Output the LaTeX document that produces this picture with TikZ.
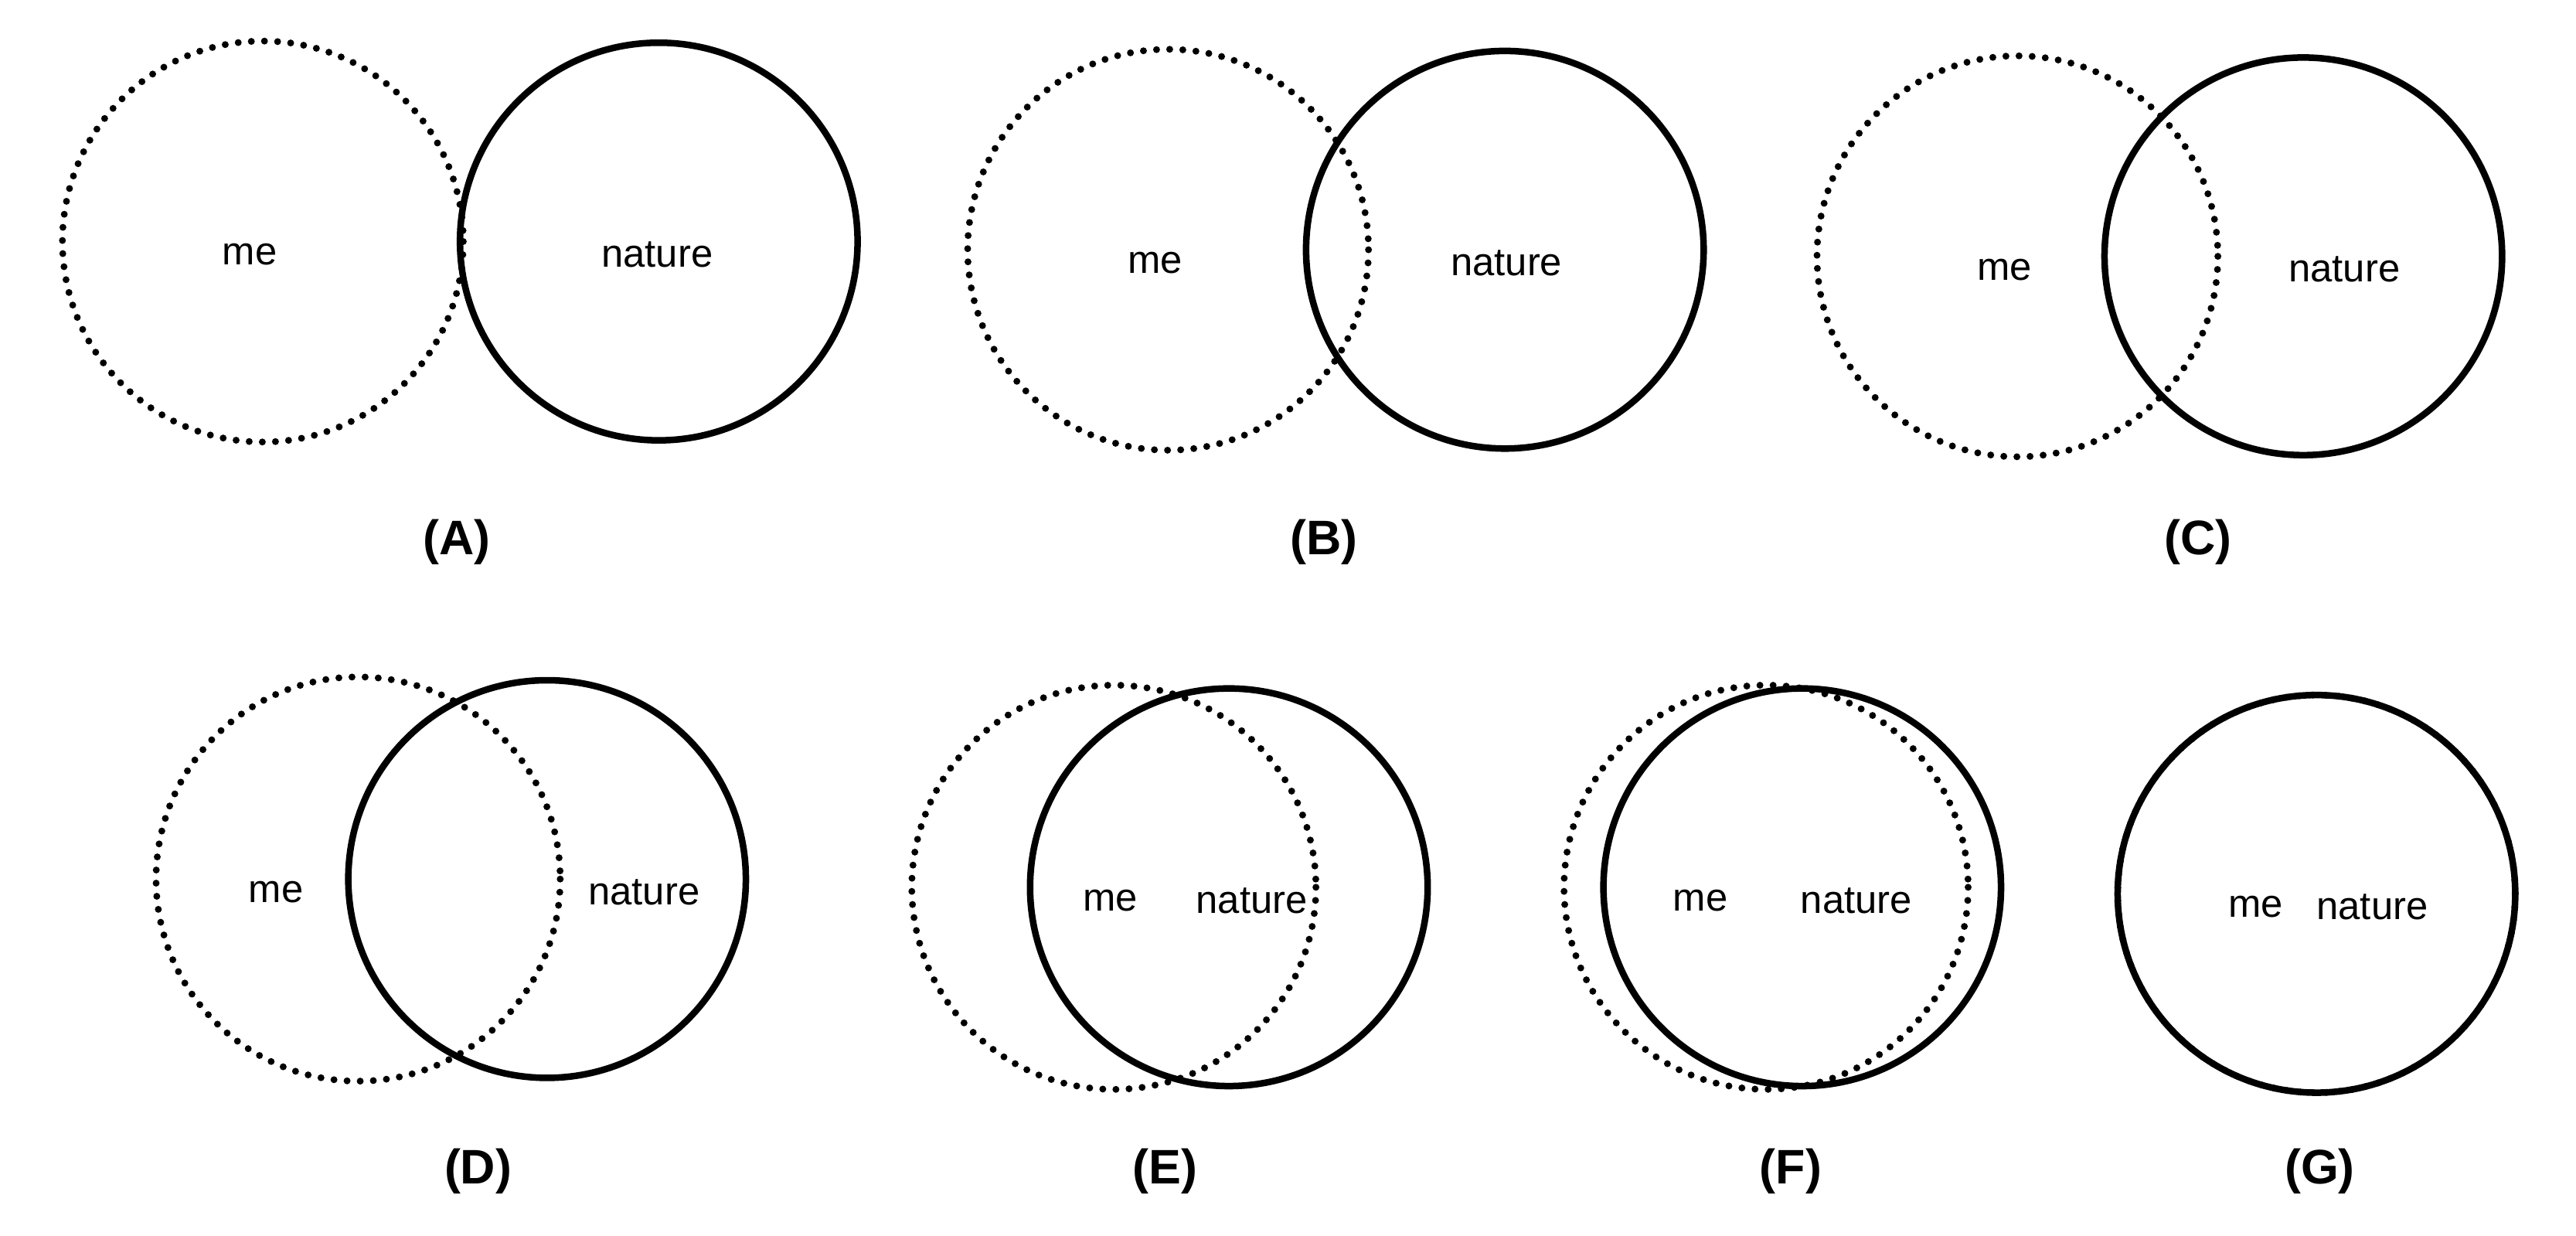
\documentclass[tikz,border=0pt]{standalone}
\usepackage{fontspec}
\setmainfont{Liberation Sans}
\begin{document}
\begin{tikzpicture}[x=0.05cm,y=-0.05cm,
 sol/.style={draw=black,line width=0.2cm},
 dot/.style={draw=black,line width=0.21cm,line cap=round,dash pattern=on 0pt off 0.4cm},
 txt/.style={font=\fontsize{34}{38}\selectfont},
 lab/.style={font=\bfseries\fontsize{42}{48}\selectfont}]
\useasboundingbox (0,0) rectangle (1568,752);
\newcommand\pair[9]{%
 \draw[dot] (#1,#2) circle (#9);
 \draw[sol] (#3,#2) circle (121);
 \node[txt] (me#8) at (#4,#2+8) {me};
 \node[txt] (na#8) at (#5,#2+8) {nature};
 \node[lab] (l#8) at (#6,#7) {(#8)};}
\pair{160}{147}{401}{152}{400}{278}{330}{A}{122}
\pair{711}{152}{916}{703}{917}{806}{330}{B}{122}
\pair{1228}{156}{1402}{1220}{1427}{1338}{330}{C}{122}
\pair{218}{535}{333}{168}{392}{291}{713}{D}{123}
\pair{678}{540}{748}{676}{762}{709}{713}{E}{123}
\pair{1075}{540}{1097}{1035}{1130}{1090}{713}{F}{123}
\pair{1410}{544}{1410}{1373}{1444}{1412}{713}{G}{121}
\end{tikzpicture}
\end{document}
